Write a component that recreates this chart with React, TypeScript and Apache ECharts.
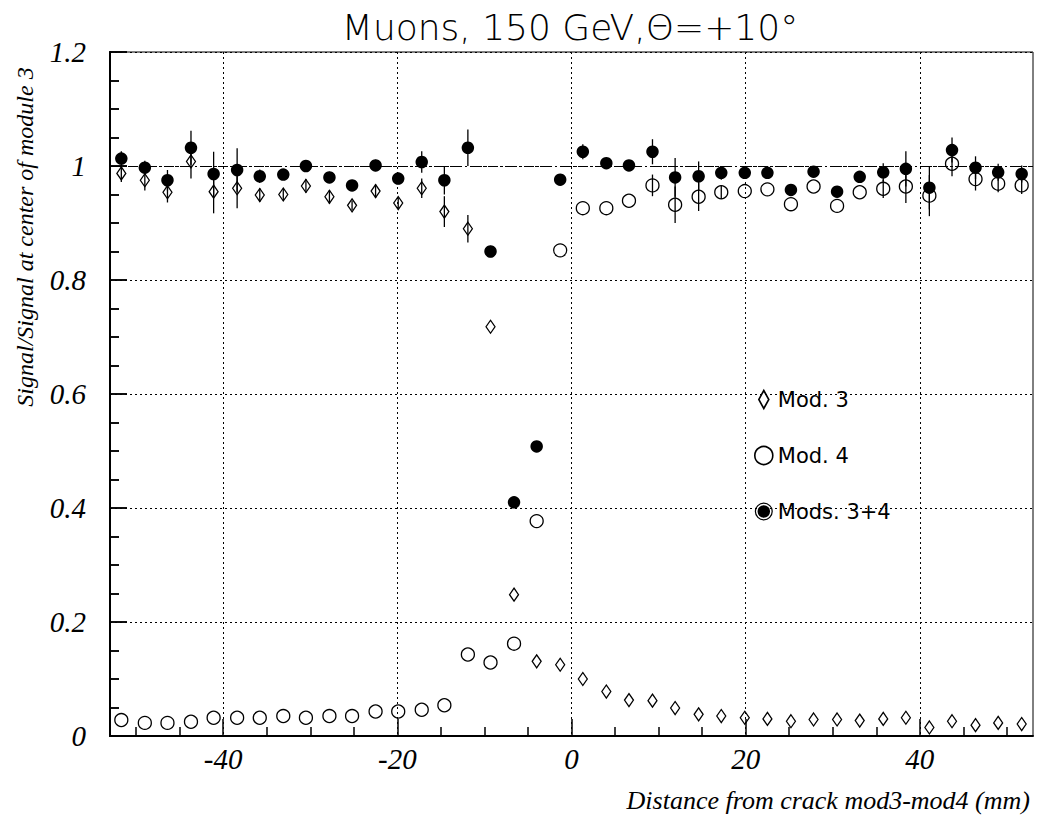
import React, { useEffect, useRef } from "react";
import * as echarts from "echarts";

// Beam position relative to the crack between modules 3 and 4 (mm)
const distance = [
  -51.7, -49.0, -46.4, -43.7, -41.1, -38.4, -35.8, -33.1, -30.5, -27.8,
  -25.2, -22.5, -19.9, -17.2, -14.6, -11.9, -9.3, -6.6, -4.0, -1.3,
  1.3, 4.0, 6.6, 9.3, 11.9, 14.6, 17.2, 19.9, 22.5, 25.2,
  27.8, 30.5, 33.1, 35.8, 38.4, 41.1, 43.7, 46.4, 49.0, 51.7,
];

// Signal normalised to the signal at the centre of module 3
const mod3 = [
  0.987, 0.975, 0.954, 1.008, 0.955, 0.961, 0.949, 0.950, 0.965, 0.946,
  0.931, 0.956, 0.935, 0.961, 0.920, 0.890, 0.718, 0.248, 0.131, 0.125,
  0.100, 0.078, 0.063, 0.062, 0.049, 0.038, 0.035, 0.032, 0.030, 0.026,
  0.029, 0.029, 0.027, 0.030, 0.032, 0.015, 0.026, 0.019, 0.023, 0.021,
];
const mod3Err = [
  0.015, 0.018, 0.018, 0.03, 0.038, 0.035, 0.012, 0.01, 0.012, 0.012,
  0.008, 0.012, 0.01, 0.017, 0.027, 0.024, 0, 0, 0, 0,
  0, 0, 0, 0, 0, 0, 0, 0, 0, 0,
  0, 0, 0, 0, 0, 0, 0, 0, 0, 0,
];

const mod4 = [
  0.028, 0.023, 0.023, 0.025, 0.032, 0.032, 0.032, 0.035, 0.032, 0.035,
  0.035, 0.043, 0.043, 0.046, 0.054, 0.143, 0.129, 0.162, 0.377, 0.852,
  0.926, 0.926, 0.939, 0.966, 0.932, 0.946, 0.954, 0.956, 0.959, 0.933,
  0.964, 0.930, 0.954, 0.960, 0.964, 0.948, 1.004, 0.977, 0.969, 0.966,
];
const mod4Err = [
  0, 0, 0, 0, 0, 0, 0, 0, 0, 0,
  0, 0, 0, 0, 0, 0, 0, 0, 0, 0,
  0, 0, 0, 0.019, 0.032, 0.025, 0.012, 0, 0, 0,
  0, 0, 0, 0.016, 0.029, 0.036, 0.022, 0.02, 0.015, 0.015,
];

const mods34 = [
  1.013, 0.997, 0.975, 1.032, 0.986, 0.993, 0.982, 0.985, 1.000, 0.980,
  0.966, 1.001, 0.978, 1.007, 0.975, 1.032, 0.850, 0.410, 0.508, 0.976,
  1.025, 1.005, 1.001, 1.025, 0.980, 0.982, 0.988, 0.988, 0.988, 0.958,
  0.990, 0.955, 0.981, 0.989, 0.995, 0.962, 1.028, 0.997, 0.989, 0.986,
];
const mods34Err = [
  0.013, 0.012, 0.018, 0.03, 0.039, 0.038, 0.012, 0.008, 0.006, 0.01,
  0.006, 0.01, 0.01, 0.019, 0.025, 0.032, 0.01, 0.005, 0.005, 0.005,
  0.013, 0.008, 0.008, 0.022, 0.034, 0.026, 0.012, 0.01, 0.008, 0.006,
  0.006, 0.006, 0.008, 0.016, 0.031, 0.038, 0.022, 0.02, 0.015, 0.015,
];

const majorTicksX = [-40, -20, 0, 20, 40];
const minorTicksX = [-50, -45, -35, -30, -25, -15, -10, -5, 5, 10, 15, 25, 30, 35, 45, 50];

const seriesNames = ["Mod. 3", "Mod. 4", "Mods. 3+4"];
const titleText = "Muons, 150 GeV,\u0398=+10\u00b0";
const xTitle = "Distance from crack mod3-mod4 (mm)";
const yTitle = "Signal/Signal at center of module 3";

const serif = '"Liberation Serif", "Times New Roman", serif';
const sans = '"DejaVu Sans", sans-serif';

const X_MIN = -53;
const X_MAX = 53;
const Y_MAX = 1.2;

const points = (ys: number[], errs: number[]) =>
  distance.map((x, i) => [x, ys[i], errs[i]]);

const errorBars = (ys: number[], errs: number[], z: number) => ({
  type: "custom",
  silent: true,
  z,
  clip: true,
  data: points(ys, errs),
  encode: { x: 0, y: 1 },
  renderItem: (_params: any, api: any) => {
    const x = api.value(0);
    const y = api.value(1);
    const e = api.value(2);
    if (!e) return null;
    const lo = api.coord([x, y - e]);
    const hi = api.coord([x, y + e]);
    return {
      type: "line",
      shape: { x1: lo[0], y1: lo[1], x2: hi[0], y2: hi[1] },
      style: { stroke: "#000", lineWidth: 1.3 },
    };
  },
});

const hollow = { color: "transparent", borderColor: "#000", borderWidth: 1.3, opacity: 1 };

const diamondIcon = "path://M5,0 L10,9 L5,18 L0,9 Z";
const ringDiscIcon =
  "path://M0,-9.5 A9.5,9.5 0 1,1 0,9.5 A9.5,9.5 0 1,1 0,-9.5 Z " +
  "M0,-8.2 A8.2,8.2 0 1,0 0,8.2 A8.2,8.2 0 1,0 0,-8.2 Z " +
  "M0,-6.6 A6.6,6.6 0 1,1 0,6.6 A6.6,6.6 0 1,1 0,-6.6 Z";

// all three grids share the same frame
const frame = { left: 110, right: 5, top: 52, bottom: 83 };

export default function App() {
  const ref = useRef<HTMLDivElement>(null);

  useEffect(() => {
    if (!ref.current) return;
    const chart = echarts.init(ref.current, undefined, { renderer: "svg" });

    const tickLabel = {
      color: "#000",
      fontFamily: serif,
      fontStyle: "italic",
      fontSize: 29,
    };
    const blackLine = (width: number) => ({ color: "#000", width });

    chart.setOption({
      animation: false,
      backgroundColor: "#fff",
      grid: [
        { ...frame, show: true, borderColor: "#000", borderWidth: 1 },
        { ...frame, show: false },
        { ...frame, show: false },
      ],
      legend: {
        orient: "vertical",
        left: 749,
        top: 384,
        itemWidth: 18,
        itemHeight: 18,
        itemGap: 35,
        selectedMode: false,
        textStyle: { fontFamily: sans, fontSize: 21, color: "#000" },
        data: [
          {
            name: seriesNames[0],
            icon: diamondIcon,
            itemStyle: { color: "transparent", borderColor: "#000", borderWidth: 1.6 },
          },
          {
            name: seriesNames[1],
            icon: "circle",
            itemStyle: { color: "transparent", borderColor: "#000", borderWidth: 1.6 },
          },
          {
            name: seriesNames[2],
            icon: ringDiscIcon,
            itemStyle: { color: "#000", borderWidth: 0, opacity: 1 },
          },
        ],
      },
      xAxis: [
        // main axis: line, long ticks, labels and dotted grid
        {
          gridIndex: 0,
          type: "value",
          min: X_MIN,
          max: X_MAX,
          position: "bottom",
          axisLine: { show: true, onZero: false, lineStyle: blackLine(2) },
          axisTick: {
            show: true,
            inside: true,
            length: 17,
            customValues: majorTicksX,
            lineStyle: blackLine(1.5),
          },
          axisLabel: { ...tickLabel, customValues: majorTicksX, margin: 8 },
          splitLine: { show: true, lineStyle: { color: "#000", type: [2, 3], width: 1 } },
        },
        // companion of the frame's vertical axis (not drawn)
        {
          gridIndex: 1,
          type: "value",
          min: X_MIN,
          max: X_MAX,
          show: false,
          axisLine: { show: false, onZero: false },
        },
        // short ticks every 5 mm
        {
          gridIndex: 2,
          type: "value",
          min: X_MIN,
          max: X_MAX,
          position: "bottom",
          axisLine: { show: false, onZero: false },
          axisTick: {
            show: true,
            inside: true,
            length: 9,
            customValues: minorTicksX,
            lineStyle: blackLine(1.5),
          },
          axisLabel: { show: false },
          splitLine: { show: false },
        },
      ],
      yAxis: [
        // main axis: labels and dotted grid
        {
          gridIndex: 0,
          type: "value",
          min: 0,
          max: Y_MAX,
          interval: 0.2,
          axisLine: { show: true, onZero: false, lineStyle: blackLine(2) },
          axisTick: { show: true, inside: true, length: 17, lineStyle: blackLine(1.5) },
          minorTick: { show: true, splitNumber: 4, length: 9, lineStyle: blackLine(1.5) },
          axisLabel: { ...tickLabel, margin: 24 },
          splitLine: { show: true, lineStyle: { color: "#000", type: [2, 3], width: 1 } },
        },
        // vertical axis line with its major and minor ticks
        {
          gridIndex: 1,
          type: "value",
          min: 0,
          max: Y_MAX,
          interval: 0.2,
          axisLine: { show: true, onZero: false, lineStyle: blackLine(2) },
          axisTick: { show: true, inside: true, length: 17, lineStyle: blackLine(1.5) },
          minorTick: { show: true, splitNumber: 4, length: 9, lineStyle: blackLine(1.5) },
          axisLabel: { show: false },
          splitLine: { show: false },
        },
        {
          gridIndex: 2,
          type: "value",
          min: 0,
          max: Y_MAX,
          show: false,
        },
      ],
      graphic: [
        {
          type: "text",
          x: 570,
          y: 27,
          style: {
            text: titleText,
            fill: "#000",
            font: `200 36px ${sans}`,
            align: "center",
            verticalAlign: "middle",
            textAlign: "center",
            textVerticalAlign: "middle",
          },
        },
        {
          type: "text",
          x: 1030,
          y: 800,
          style: {
            text: xTitle,
            fill: "#000",
            font: `italic 26px ${serif}`,
            align: "right",
            verticalAlign: "middle",
            textAlign: "right",
            textVerticalAlign: "middle",
          },
        },
        {
          type: "text",
          x: 25,
          y: 237,
          rotation: Math.PI / 2,
          style: {
            text: yTitle,
            fill: "#000",
            font: `italic 24px ${serif}`,
            align: "center",
            verticalAlign: "middle",
            textAlign: "center",
            textVerticalAlign: "middle",
          },
        },
      ],
      series: [
        errorBars(mod3, mod3Err, 2),
        errorBars(mod4, mod4Err, 2),
        errorBars(mods34, mods34Err, 2),
        {
          name: seriesNames[0],
          type: "scatter",
          z: 3,
          symbol: "diamond",
          symbolSize: [9, 13],
          itemStyle: hollow,
          data: distance.map((x, i) => [x, mod3[i]]),
        },
        {
          name: seriesNames[1],
          type: "scatter",
          z: 3,
          symbol: "circle",
          symbolSize: 13,
          itemStyle: hollow,
          data: distance.map((x, i) => [x, mod4[i]]),
        },
        {
          name: seriesNames[2],
          type: "scatter",
          z: 4,
          symbol: "circle",
          symbolSize: 12.5,
          itemStyle: { color: "#000", opacity: 1 },
          data: distance.map((x, i) => [x, mods34[i]]),
          markLine: {
            silent: true,
            symbol: "none",
            label: { show: false },
            lineStyle: { color: "#000", type: [10, 3, 2, 3], width: 1 },
            data: [
              { yAxis: 1 },
              // solid frame edge along the vertical axis
              { xAxis: X_MIN, lineStyle: { color: "#000", type: "solid", width: 2 } },
            ],
          },
        },
      ],
    });

    return () => chart.dispose();
  }, []);

  return (
    <div
      ref={ref}
      style={{ position: "absolute", left: 0, top: 0, width: 1038, height: 819 }}
    />
  );
}
